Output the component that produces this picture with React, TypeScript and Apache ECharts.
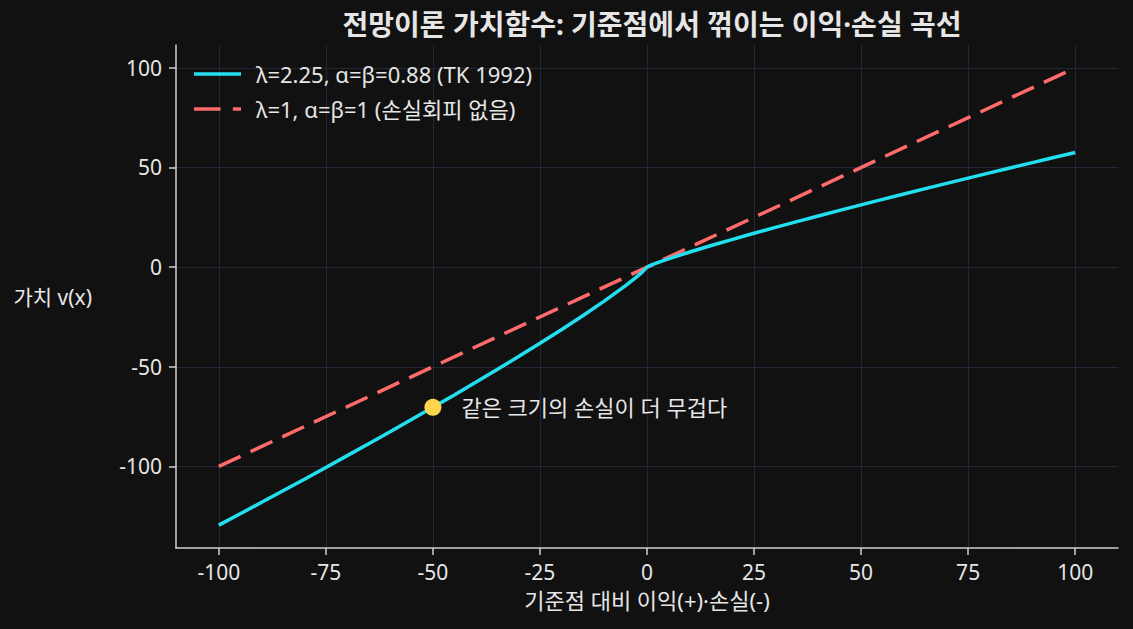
import React, { useEffect, useRef } from "react";
import * as echarts from "echarts";

const titleText = "전망이론 가치함수: 기준점에서 꺾이는 이익·손실 곡선";
const xName = "기준점 대비 이익(+)·손실(-)";
const yName = "가치 v(x)";
const seriesNames = ["λ=2.25, α=β=0.88 (TK 1992)", "λ=1, α=β=1 (손실회피 없음)"];
const annotationText = "같은 크기의 손실이 더 무겁다";

const xTicks = [-100, -75, -50, -25, 0, 25, 50, 75, 100];
const yTicks = [-100, -50, 0, 50, 100];

const gainLossX = [
  -100, -95, -90, -85, -80, -75, -70, -65, -60, -55, -50, -45, -40, -35, -30, -25, -20, -15, -10, -5, -3, -2, -1, 0,
  1, 2, 3, 5, 10, 15, 20, 25, 30, 35, 40, 45, 50, 55, 60, 65, 70, 75, 80, 85, 90, 95, 100,
];
const prospectValue = [
  -129.47, -123.77, -118.01, -112.23, -106.4, -100.53, -94.59, -88.61, -82.6, -76.5, -70.36, -64.13, -57.8, -51.39,
  -44.89, -38.23, -31.41, -24.39, -17.07, -9.27, -5.92, -4.14, -2.25, 0, 1.0, 1.84, 2.63, 4.12, 7.59, 10.84, 13.96,
  16.99, 19.95, 22.84, 25.69, 28.5, 31.27, 34.0, 36.71, 39.38, 42.04, 44.68, 47.29, 49.88, 52.45, 55.01, 57.54,
];
const linearX = [-100, 100];
const linearValue = [-100, 100];
const markerPoint = [-50, -70.36];

const xRange = [-110, 110];
const yRange = [-140.94, 111.47];

const FONT = "'Noto Sans', 'Noto Sans CJK KR', sans-serif";
const TEXT = "#e6e6e6";
const AXIS = "#cfcfcf";
const GRID = "#262636";
const CYAN = "#22dff0";
const RED = "#ff6b6b";

export default function App() {
  const ref = useRef<HTMLDivElement>(null);
  useEffect(() => {
    if (!ref.current) return;
    const chart = echarts.init(ref.current, undefined, { renderer: "svg" });
    chart.setOption({
      animation: false,
      backgroundColor: "#111111",
      textStyle: { fontFamily: FONT },
      title: {
        text: titleText,
        left: 647,
        textAlign: "center",
        top: 5,
        textStyle: { color: TEXT, fontSize: 28, fontWeight: "bold", fontFamily: FONT },
      },
      legend: {
        orient: "vertical",
        left: 189,
        top: 58,
        itemWidth: 47,
        itemHeight: 20,
        itemGap: 13,
        symbolKeepAspect: true,
        textStyle: { color: TEXT, fontSize: 22, fontFamily: FONT, padding: [0, 0, 0, 10] },
        data: [
          { name: seriesNames[0], icon: "path://M0,0H47V3.5H0Z" },
          { name: seriesNames[1], icon: "path://M0,0H26V3.5H0Z M38,0H46V3.5H38Z" },
        ],
      },
      grid: { left: 176, right: 15, top: 45, bottom: 81, containLabel: false },
      xAxis: {
        type: "value",
        min: xRange[0],
        max: xRange[1],
        name: xName,
        nameLocation: "middle",
        nameGap: 41,
        nameTextStyle: { color: TEXT, fontSize: 22, fontFamily: FONT },
        axisLine: { show: true, onZero: false, lineStyle: { color: AXIS, width: 1.5 } },
        axisTick: { show: true, length: 7, lineStyle: { color: AXIS, width: 1.5 }, customValues: xTicks },
        axisLabel: { color: TEXT, fontSize: 21, margin: 13, customValues: xTicks, fontFamily: FONT },
        splitLine: { show: true, lineStyle: { color: GRID, width: 1 } },
      },
      yAxis: {
        type: "value",
        min: yRange[0],
        max: yRange[1],
        name: yName,
        nameLocation: "middle",
        nameRotate: 0,
        nameGap: 84,
        nameTextStyle: { color: TEXT, fontSize: 21, fontFamily: FONT },
        axisLine: { show: true, onZero: false, lineStyle: { color: AXIS, width: 1.5 } },
        axisTick: { show: true, length: 7, lineStyle: { color: AXIS, width: 1.5 }, customValues: yTicks },
        axisLabel: { color: TEXT, fontSize: 21, margin: 14, customValues: yTicks, fontFamily: FONT },
        splitLine: { show: true, lineStyle: { color: GRID, width: 1 } },
      },
      series: [
        {
          name: seriesNames[0],
          type: "line",
          data: gainLossX.map((x, i) => [x, prospectValue[i]]),
          showSymbol: false,
          symbol: "none",
          z: 3,
          lineStyle: { color: CYAN, width: 3.5 },
          itemStyle: { color: CYAN },
        },
        {
          name: seriesNames[1],
          type: "line",
          data: linearX.map((x, i) => [x, linearValue[i]]),
          showSymbol: false,
          symbol: "none",
          z: 2,
          lineStyle: { color: RED, width: 3.5, type: [24, 11] },
          itemStyle: { color: RED },
        },
        {
          name: "marker",
          type: "scatter",
          data: [markerPoint],
          symbolSize: 17,
          z: 5,
          itemStyle: { color: "#ffd54f", opacity: 1 },
          label: {
            show: true,
            position: "right",
            distance: 20,
            formatter: annotationText,
            color: TEXT,
            fontSize: 22,
            fontFamily: FONT,
          },
        },
      ],
    });
    return () => chart.dispose();
  }, []);
  return <div ref={ref} style={{ position: "fixed", left: 0, top: 0, width: 1133, height: 629 }} />;
}
